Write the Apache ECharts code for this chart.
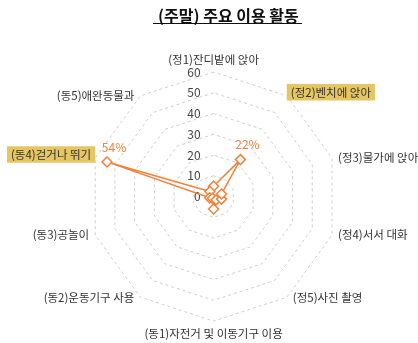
<!DOCTYPE html>
<html>
<head>
<meta charset="utf-8">
<script src="https://cdn.jsdelivr.net/npm/echarts@6/dist/echarts.min.js"></script>
<style>
  html, body { margin: 0; padding: 0; background: #fff; }
  #chart { width: 418px; height: 343px; }
</style>
</head>
<body>
<div id="chart"></div>
<script>
// Activities, clockwise from the top
const indicators = [
  '(정1)잔디밭에 앉아',
  '(정2)벤치에 앉아',
  '(정3)물가에 앉아',
  '(정4)서서 대화',
  '(정5)사진 촬영',
  '(동1)자전거 및 이동기구 이용',
  '(동2)운동기구 사용',
  '(동3)공놀이',
  '(동4)걷거나 뛰기',
  '(동5)애완동물과'
];
// Share of users (%) per activity
const shares = [5, 22, 4, 4, 2, 6, 1, 2, 54, 3];
// Activities that are highlighted and labelled
const highlighted = ['(정2)벤치에 앉아', '(동4)걷거나 뛰기'];
const scaleMax = 60;
const scaleStep = 10;

// ECharts lays radar axes out counter-clockwise; reorder so they run clockwise
const order = [0].concat(indicators.map(function (_, i) { return i; }).slice(1).reverse());
const axisNames = order.map(function (i) { return indicators[i]; });
const axisValues = order.map(function (i) { return shares[i]; });

const orange = '#F4823C';
const font = 'Noto Sans CJK KR';
const center = ['51.1%', '57.3%'];
const radius = 124.5;

const chart = echarts.init(document.getElementById('chart'));
chart.setOption({
  animation: false,
  title: {
    text: '(주말) 주요 이용 활동',
    left: 153,
    top: 3,
    textStyle: { fontFamily: font, fontSize: 16, fontWeight: 'bold', color: '#111' }
  },
  graphic: [{
    type: 'line',
    shape: { x1: 153, y1: 23.5, x2: 302, y2: 23.5 },
    style: { stroke: '#111', lineWidth: 1 }
  }],
  radar: {
    center: center,
    radius: radius,
    startAngle: 90,
    splitNumber: scaleMax / scaleStep,
    shape: 'polygon',
    axisNameGap: 0,
    axisName: {
      fontFamily: font,
      fontSize: 11.5,
      color: '#333',
      formatter: function (name) {
        // highlighted names get a spacer line below so the box sits a little higher
        return highlighted.indexOf(name) >= 0 ? '{hl|' + name + '}\n{sp|}' : '{n|' + name + '}';
      },
      rich: {
        n: { fontFamily: font, fontSize: 11.5, color: '#333', padding: [7, 6, 7, 6] },
        hl: { fontFamily: font, fontSize: 11.5, color: '#333', backgroundColor: '#E6C662', padding: [3, 4, 2, 4] },
        sp: { height: 7, lineHeight: 7, fontSize: 1 }
      }
    },
    axisLine: { show: false },
    splitArea: { show: false },
    splitLine: { lineStyle: { color: '#cfcfcf', type: [3, 3], width: 1 } },
    indicator: axisNames.map(function (name) { return { name: name, min: 0, max: scaleMax }; })
  },
  polar: { center: center, radius: radius },
  angleAxis: { type: 'value', min: 0, max: 360, startAngle: 90, show: false },
  radiusAxis: {
    type: 'value',
    min: 0,
    max: scaleMax,
    interval: scaleStep,
    axisLine: { show: false },
    axisTick: { show: false },
    splitLine: { show: false },
    axisLabel: { color: '#444', fontSize: 12, fontFamily: font, margin: 13 }
  },
  series: [{
    type: 'radar',
    symbol: 'diamond',
    symbolSize: 10,
    lineStyle: { color: orange, width: 1.5 },
    itemStyle: { color: '#fff', borderColor: orange, borderWidth: 1.5 },
    label: {
      show: true,
      position: 'top',
      distance: 3,
      offset: [7, 0],
      color: orange,
      fontSize: 12,
      fontFamily: font,
      formatter: function (p) {
        const i = p.dimensionIndex;
        const v = Array.isArray(p.value) ? p.value[i] : p.value;
        return highlighted.indexOf(axisNames[i]) >= 0 ? v + '%' : '';
      }
    },
    data: [{ value: axisValues }]
  }]
});
</script>
</body>
</html>
